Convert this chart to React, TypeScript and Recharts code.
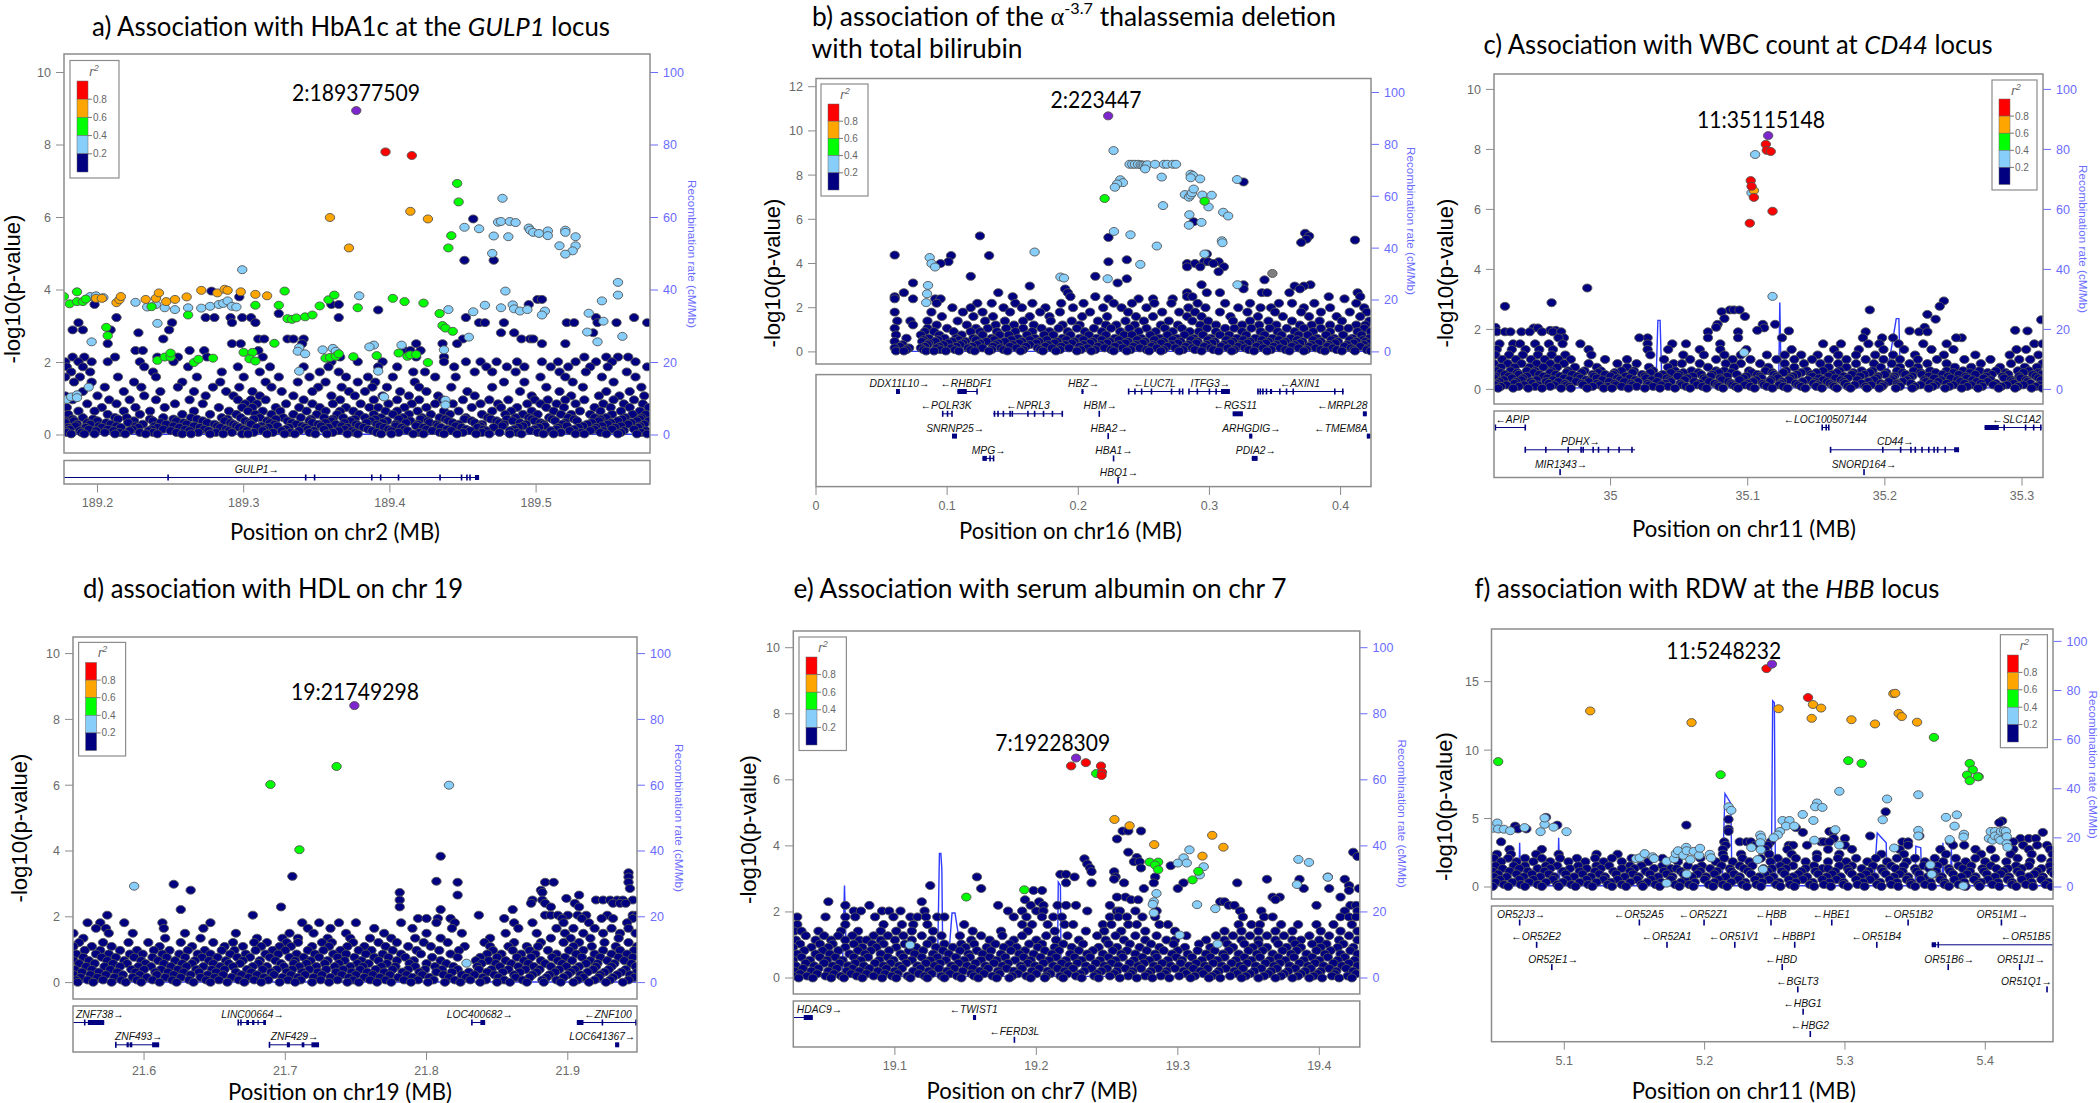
import { ComposedChart, Line, Scatter, XAxis, YAxis } from "recharts";

// colours of the LD classes, lowest r2 first
const NAVY = "#000080";
const LIGHT = "#87CEFA";
const GREEN = "#00FF00";
const ORANGE = "#FFA500";
const RED = "#FF0000";
const PURPLE = "#7D26CD";
const GREY = "#7F7F7F";
const LEGEND_COLOURS = [RED, ORANGE, GREEN, LIGHT, NAVY];
const LEGEND_LABELS = ["0.8", "0.6", "0.4", "0.2"];
const RECOMB_TICKS = [0, 20, 40, 60, 80, 100];

type Pt = [number, number];
type Row = [number, number[]];

// ---------- a) GULP1, x in MB (coloured) or kb above 189000 (navy rows)
const A_PURPLE: Pt[] = [[189.377, 8.95]];
const A_RED: Pt[] = [[189.397, 7.81], [189.415, 7.71]];
const A_ORANGE: Pt[] = [[189.359, 6], [189.372, 5.16], [189.414, 6.17], [189.426, 5.96], [189.199, 3.77], [189.203, 3.77], [189.213, 3.65], [189.215, 3.73], [189.216, 3.82], [189.233, 3.74], [189.24, 3.77], [189.242, 3.92], [189.247, 3.68], [189.253, 3.74], [189.261, 3.81], [189.271, 3.99], [189.282, 3.92], [189.287, 4.02], [189.289, 3.99], [189.298, 3.95], [189.308, 3.88], [189.316, 3.84]];
const A_GREEN: Pt[] = [[189.446, 6.94], [189.447, 6.43], [189.442, 5.5], [189.44, 5.16], [189.177, 3.82], [189.181, 3.62], [189.186, 3.95], [189.186, 3.68], [189.19, 3.68], [189.192, 3.75], [189.237, 3.54], [189.262, 3.31], [189.308, 3.58], [189.328, 3.97], [189.324, 3.58], [189.33, 3.21], [189.333, 3.19], [189.336, 3.23], [189.342, 3.26], [189.347, 3.31], [189.352, 3.56], [189.358, 3.73], [189.362, 3.86], [189.378, 3.51], [189.402, 3.77], [189.41, 3.68], [189.423, 3.64], [189.434, 3.35], [189.436, 3.02], [189.438, 2.95], [189.443, 2.86], [189.206, 2.97], [189.207, 2.74], [189.321, 2.53], [189.241, 2.06], [189.246, 2.15], [189.25, 2.15], [189.25, 2.26], [189.266, 2], [189.269, 2.09], [189.279, 2.12], [189.3, 2.28], [189.306, 2.28], [189.304, 2.1], [189.308, 2.04], [189.356, 2.12], [189.359, 2.14], [189.363, 2.17], [189.365, 2.24], [189.375, 2.16], [189.391, 2.19], [189.406, 2.26], [189.412, 2.17], [189.414, 2.21], [189.418, 2.22], [189.426, 2]];
const A_LIGHT: Pt[] = [[189.299, 4.56], [189.477, 6.53], [189.451, 5.73], [189.461, 5.69], [189.474, 5.87], [189.476, 5.89], [189.482, 5.89], [189.486, 5.86], [189.471, 5.49], [189.481, 5.47], [189.495, 5.71], [189.496, 5.65], [189.498, 5.59], [189.502, 5.56], [189.508, 5.63], [189.508, 5.5], [189.52, 5.65], [189.52, 5.59], [189.527, 5.47], [189.516, 5.22], [189.527, 5.22], [189.525, 5.08], [189.52, 4.99], [189.47, 5.01], [189.556, 4.21], [189.556, 3.86], [189.545, 3.7], [189.479, 3.97], [189.379, 3.84], [189.44, 3.46], [189.457, 3.4], [189.465, 3.58], [189.476, 3.51], [189.484, 3.59], [189.485, 3.48], [189.489, 3.42], [189.494, 3.46], [189.506, 3.42], [189.504, 3.31], [189.536, 3.36], [189.546, 3.14], [189.535, 2.84], [189.542, 2.57], [189.559, 2.72], [189.454, 2.7], [189.437, 2.35], [189.408, 2.48], [189.389, 2.48], [189.386, 2.43], [189.354, 2.35], [189.361, 2.39], [189.363, 2.31], [189.338, 2.41], [189.337, 2.31], [189.342, 2.24], [189.392, 1.76], [189.338, 1.76], [189.396, 1.05], [189.438, 0.96], [189.438, 0.83], [189.194, 1.32], [189.196, 2.57], [189.241, 3.08], [189.179, 0.98], [189.182, 1.05], [189.186, 1.11], [189.186, 1.03], [189.195, 3.82], [189.199, 3.84], [189.204, 3.79], [189.226, 3.66], [189.234, 3.53], [189.24, 3.6], [189.246, 3.51], [189.253, 3.46], [189.262, 3.51], [189.271, 3.5], [189.277, 3.55], [189.283, 3.6], [189.286, 3.63], [189.289, 3.7], [189.292, 3.55], [189.295, 3.53]];
const A_NAVY: Row[] = [
  [5.96, [457]], [4.82, [451, 471]], [3.97, [278]], [3.81, [297]], [3.74, [501, 504]], [3.6, [360, 365, 495, 198]], [3.45, [392]], [3.35, [324]],
  [3.24, [299, 305, 365, 452, 541, 567, 213, 274, 280, 291]], [3.1, [187, 251, 292, 308, 461, 465, 478, 521, 526, 542, 555, 576]],
  [2.9, [183, 190, 209, 249]], [2.82, [228, 476, 485, 539]], [2.65, [245, 310, 314, 330, 334, 341, 490, 496, 498, 450]],
  [2.52, [207, 292, 298, 340, 418, 436, 446, 504, 520]], [2.33, [226, 231, 263, 273, 310, 410, 414, 421]],
  [2.15, [183, 191, 212, 241, 255, 275, 313, 366, 418, 437, 533, 548, 556, 563]],
  [2.02, [178, 187, 196, 207, 229, 252, 360, 378, 395, 437, 452, 462, 473, 487, 504, 515, 527, 541, 552, 568]],
  [1.88, [179, 190, 232, 262, 296, 318, 341, 358, 392, 405, 444, 466, 480, 492, 510, 522, 537, 549, 576]],
  [1.74, [182, 195, 238, 285, 311, 352, 365, 416, 424, 458, 470, 486, 516, 534, 562]],
  [1.6, [178, 188, 214, 240, 268, 300, 324, 345, 370, 385, 402, 431, 445, 503, 520, 545, 568]],
  [1.46, [184, 196, 225, 258, 284, 315, 337, 356, 378, 390, 417, 478, 492, 525, 553]],
  [1.32, [205, 230, 255, 279, 297, 319, 351, 367, 388, 398, 420, 442, 470, 507, 532, 572]],
  [1.2, [190, 218, 243, 266, 288, 306, 326, 347, 372, 383, 407, 425, 453, 489, 516, 548, 564]],
  [1.08, [178, 200, 232, 274, 293, 311, 334, 360, 376, 395, 413, 433, 458, 497, 524, 543, 557, 574]],
  [0.97, [183, 208, 222, 240, 263, 296, 305, 315, 341, 366, 389, 405, 420, 436, 450, 468, 481, 499, 508, 520, 533, 553, 567]],
  [0.86, [193, 213, 253, 272, 301, 309, 329, 347, 361, 380, 399, 415, 431, 443, 462, 474, 494, 503, 514, 527, 546, 560, 573]],
  [0.76, [179, 203, 226, 246, 283, 299, 306, 322, 338, 352, 370, 386, 392, 410, 425, 456, 476, 487, 507, 519, 540, 551, 564, 577]],
  [0.66, [187, 198, 218, 236, 266, 290, 303, 313, 325, 343, 356, 366, 375, 397, 405, 419, 437, 447, 470, 483, 497, 512, 530, 544, 558, 571]],
  [0.57, [180, 207, 229, 258, 277, 295, 308, 319, 334, 350, 364, 379, 389, 402, 413, 428, 441, 463, 479, 491, 501, 517, 524, 537, 552, 566, 575]],
  [0.48, [190, 212, 220, 245, 264, 285, 298, 311, 327, 339, 355, 368, 383, 394, 409, 422, 434, 452, 467, 486, 495, 509, 522, 540, 548, 561, 572]],
  [0.44, [183, 197, 214, 236, 252, 268, 289, 307, 322, 346, 361, 376, 390, 406, 421, 438, 451, 469, 480, 497, 511, 526, 544, 559, 571]],
  [0.39, [178, 184, 200, 225, 238, 254, 272, 287, 301, 316, 330, 345, 360, 373, 387, 398, 414, 426, 440, 456, 473, 484, 499, 513, 528, 543, 556, 569, 577]],
  [0.34, [178, 193, 206, 221, 243, 259, 275, 291, 304, 318, 333, 347, 356, 369, 384, 395, 411, 427, 443, 458, 475, 489, 503, 520, 538, 551, 565]],
  [0.3, [186, 195, 209, 231, 247, 261, 280, 293, 305, 321, 336, 351, 363, 377, 391, 404, 419, 432, 447, 463, 478, 493, 505, 518, 535, 549, 563, 574]],
  [0.25, [185, 201, 213, 226, 239, 252, 266, 282, 295, 312, 323, 340, 353, 367, 379, 393, 404, 418, 433, 445, 462, 477, 491, 506, 521, 532, 545, 558, 571]],
  [0.21, [180, 192, 203, 216, 228, 241, 256, 270, 284, 297, 309, 317, 331, 342, 358, 371, 382, 396, 408, 423, 435, 449, 460, 471, 488, 502, 515, 529, 541, 554, 570]],
  [0.16, [181, 194, 207, 224, 237, 245, 260, 273, 288, 300, 314, 329, 344, 355, 369, 385, 399, 410, 425, 439, 452, 464, 485, 499, 514, 526, 540, 552, 567]],
  [0.12, [178, 188, 199, 211, 222, 235, 250, 263, 276, 290, 302, 313, 326, 338, 348, 365, 374, 388, 401, 412, 429, 442, 455, 466, 482, 496, 510, 523, 537, 546, 560, 575]],
  [0.07, [179, 189, 205, 215, 229, 238, 254, 269, 281, 292, 307, 320, 332, 345, 361, 376, 391, 406, 420, 434, 450, 463, 475, 487, 501, 517, 531, 544, 558, 572]],
  [0.03, [182, 191, 198, 212, 219, 233, 241, 258, 264, 277, 286, 299, 303, 316, 328, 335, 349, 357, 371, 378, 394, 401, 416, 423, 437, 446, 459, 468, 482, 490, 505, 512, 527, 533, 548, 556, 569, 576]],
];
const A_RECOMB: Pt[] = [[189.1771, 0.2], [189.5779, 0.2]];

// ---------- b) alpha thalassemia deletion, navy rows in kb
const B_PURPLE: Pt[] = [[0.2228, 10.68]];
const B_GREEN: Pt[] = [[0.2201, 6.94], [0.2963, 6.82]];
const B_GREY: Pt[] = [[0.348, 3.55]];
const B_LIGHT: Pt[] = [[0.2269, 9.11], [0.2391, 8.49], [0.2412, 8.49], [0.2432, 8.49], [0.2456, 8.49], [0.2476, 8.47], [0.249, 8.45], [0.2503, 8.45], [0.2517, 8.42], [0.2527, 8.47], [0.2585, 8.49], [0.2653, 8.49], [0.2677, 8.49], [0.2721, 8.49], [0.2745, 8.49], [0.251, 8.28], [0.2636, 7.91], [0.2857, 8.04], [0.2874, 7.98], [0.2857, 7.88], [0.2929, 7.83], [0.3211, 7.8], [0.232, 7.79], [0.234, 7.66], [0.2296, 7.6], [0.2279, 7.45], [0.2813, 7.12], [0.2844, 7], [0.2857, 7.1], [0.2867, 7.2], [0.288, 7.37], [0.2946, 7.1], [0.3017, 7.09], [0.2993, 6.56], [0.2646, 6.62], [0.3105, 6.32], [0.3143, 6.15], [0.2847, 6.21], [0.2844, 5.73], [0.2939, 5.86], [0.2272, 5.45], [0.2398, 5.3], [0.2599, 4.79], [0.3095, 5.03], [0.3099, 4.94], [0.2963, 4.43], [0.1667, 4.52], [0.2473, 3.96], [0.0867, 4.27], [0.0881, 4], [0.0908, 3.84], [0.1864, 3.39], [0.1891, 3.34], [0.2224, 3.31], [0.0854, 3.01], [0.0847, 2.63], [0.084, 2.23], [0.3214, 3.04]];
const B_NAVY: Row[] = [
  [7.69, [326]], [5.89, [288]], [5.25, [125]], [5.18, [223]], [5.37, [373]], [5.24, [376]], [5.1, [374]], [4.95, [370]], [5.06, [411]], [4.38, [60]], [4.36, [103, 132]], [4.43, [298]],
  [4.08, [101, 223, 296, 299, 307]], [4.17, [237]], [4, [95, 283, 289, 303]], [3.85, [283, 293, 311]], [3.63, [307]], [3.42, [118, 213]], [3.31, [237]], [3.26, [342]], [3.12, [74, 230]],
  [3.04, [377, 294, 326]], [2.98, [163, 365, 372]], [2.85, [190, 326, 369]], [2.68, [67, 139, 192, 283, 298, 308, 340, 344, 361, 413]], [2.5, [60, 150, 194, 213, 283, 287, 391, 415]], [2.4, [60, 91, 95, 74, 223, 246, 257, 272, 403]],
  [2.2, [92, 123, 134, 152, 165, 187, 204, 227, 241, 258, 271, 291, 312, 331, 353, 363, 380, 412]],
  [2, [104, 118, 143, 157, 175, 196, 219, 233, 252, 284, 297, 322, 339, 347, 372, 392, 418]],
  [1.8, [60, 88, 112, 127, 148, 171, 186, 209, 238, 264, 277, 289, 308, 329, 350, 370, 385, 407, 420]],
  [1.6, [96, 120, 135, 163, 178, 203, 222, 244, 257, 283, 294, 316, 337, 356, 376, 397, 415]],
  [1.4, [62, 72, 85, 108, 129, 144, 158, 179, 195, 215, 236, 250, 269, 287, 299, 318, 331, 345, 363, 384, 401, 422]],
  [1.22, [74, 92, 115, 137, 151, 166, 188, 201, 221, 229, 243, 263, 276, 293, 305, 325, 338, 351, 369, 378, 392, 412, 419]],
  [1.07, [60, 85, 100, 122, 131, 145, 158, 172, 185, 199, 212, 225, 239, 252, 266, 279, 298, 312, 319, 332, 346, 359, 372, 385, 399, 406, 418]],
  [0.92, [83, 90, 105, 118, 125, 138, 152, 165, 178, 192, 205, 218, 232, 246, 259, 272, 285, 292, 305, 325, 339, 352, 365, 379, 392, 413, 423]],
  [0.77, [61, 80, 94, 111, 127, 140, 147, 161, 174, 181, 194, 208, 221, 235, 241, 255, 268, 281, 295, 308, 315, 328, 342, 355, 368, 375, 389, 402, 416]],
  [0.62, [69, 86, 98, 107, 120, 134, 154, 167, 188, 201, 214, 228, 248, 262, 275, 288, 301, 321, 335, 348, 362, 382, 395, 409, 422]],
  [0.55, [82, 93, 109, 122, 136, 149, 163, 176, 191, 204, 218, 231, 245, 258, 272, 286, 299, 313, 326, 340, 353, 367, 379, 393, 407, 417]],
  [0.47, [60, 81, 91, 104, 114, 130, 144, 157, 170, 184, 197, 211, 224, 238, 251, 265, 278, 291, 304, 318, 331, 345, 358, 371, 385, 398, 412, 419]],
  [0.4, [86, 101, 112, 125, 139, 155, 168, 182, 195, 209, 222, 236, 249, 263, 276, 290, 302, 316, 329, 343, 356, 369, 383, 396, 410, 422]],
  [0.33, [66, 85, 97, 110, 123, 137, 150, 163, 177, 190, 204, 217, 231, 244, 257, 271, 284, 298, 311, 324, 338, 351, 365, 378, 391, 405, 418]],
  [0.25, [64, 83, 94, 107, 119, 135, 148, 160, 175, 187, 201, 215, 228, 242, 256, 268, 282, 296, 309, 322, 336, 349, 363, 376, 390, 403, 415]],
  [0.18, [60, 71, 80, 92, 103, 116, 127, 141, 153, 169, 180, 193, 207, 220, 234, 247, 260, 274, 287, 301, 314, 327, 341, 354, 368, 381, 394, 408, 421]],
  [0.1, [69, 82, 95, 106, 118, 134, 143, 158, 171, 186, 202, 213, 225, 240, 252, 265, 280, 289, 303, 319, 330, 347, 358, 374, 385, 397, 410, 420]],
  [0.04, [61, 67, 84, 90, 99, 109, 121, 132, 146, 156, 173, 183, 199, 210, 227, 237, 254, 263, 277, 294, 307, 317, 334, 344, 361, 372, 388, 401, 411, 423]],
];
const B_RECOMB: Pt[] = [[0.06, 0.2], [0.4232, 0.2]];

// ---------- c) CD44, navy rows in kb above 34900
const C_PURPLE: Pt[] = [[35.1149, 8.46]];
const C_RED: Pt[] = [[35.1132, 8.17], [35.1139, 7.97], [35.1168, 7.93], [35.1022, 6.96], [35.1028, 6.77], [35.1045, 6.4], [35.1181, 5.94], [35.1015, 5.54]];
const C_ORANGE: Pt[] = [[35.1045, 6.63]];
const C_LIGHT: Pt[] = [[35.1054, 7.83], [35.1028, 6.55], [35.1181, 3.1], [35.0973, 1.23]];
const C_NAVY: Row[] = [
  [3.38, [83]], [2.89, [57]], [2.77, [23]], [2.65, [187, 190, 194, 289]], [2.95, [343]], [2.77, [340]], [2.59, [181]], [2.5, [331]], [2.43, [198]], [2.36, [183]], [2.34, [337]], [2.32, [414]],
  [2.17, [220, 178, 211]], [2.07, [177, 329, 16]], [2.05, [212, 44, 47]], [1.97, [207, 395, 56, 60]], [1.95, [230, 404, 318]],
  [1.92, [17, 23, 27, 35, 41, 50, 58, 64, 171, 193, 286, 325, 331]],
  [1.72, [66, 127, 171, 193, 225, 284, 298, 356, 62, 121, 306, 352]],
  [1.52, [19, 29, 34, 45, 55, 65, 78, 127, 145, 155, 180, 255, 268, 288, 296, 310, 328, 345, 409, 415]],
  [1.33, [17, 28, 38, 48, 58, 84, 127, 142, 165, 180, 199, 232, 263, 281, 299, 314, 334, 350, 396, 403]],
  [1.15, [16, 26, 36, 47, 57, 67, 86, 129, 153, 168, 183, 195, 214, 227, 239, 251, 266, 279, 293, 306, 322, 343, 366, 391, 412]],
  [1, [21, 31, 42, 52, 62, 71, 96, 112, 139, 158, 177, 189, 202, 221, 234, 247, 259, 272, 286, 299, 311, 324, 338, 358, 377, 398, 406]],
  [0.86, [15, 25, 35, 46, 56, 66, 84, 105, 119, 146, 152, 165, 184, 195, 209, 227, 241, 253, 266, 279, 292, 305, 318, 331, 345, 370, 392, 415]],
  [0.74, [20, 30, 41, 51, 61, 74, 90, 112, 128, 142, 171, 190, 215, 234, 259, 272, 297, 311, 324, 351, 363, 384, 402, 411]],
  [0.62, [17, 27, 39, 45, 57, 69, 81, 93, 108, 117, 131, 147, 159, 177, 183, 201, 213, 228, 243, 255, 267, 283, 291, 309, 321, 333, 345, 357, 369, 381, 397, 405]],
  [0.56, [20, 32, 44, 56, 68, 79, 91, 103, 116, 129, 144, 153, 164, 179, 188, 203, 218, 226, 239, 250, 265, 277, 289, 301, 313, 326, 337, 350, 362, 375, 388, 401, 412]],
  [0.5, [23, 33, 48, 60, 72, 87, 96, 102, 123, 138, 150, 166, 174, 192, 207, 219, 236, 246, 261, 276, 285, 300, 315, 327, 342, 354, 366, 378, 390, 408, 414]],
  [0.44, [16, 26, 39, 51, 63, 76, 88, 100, 111, 125, 135, 149, 160, 173, 185, 199, 209, 221, 233, 247, 259, 270, 282, 295, 307, 320, 332, 346, 359, 374, 386, 398, 410]],
  [0.38, [15, 28, 36, 54, 66, 78, 90, 105, 114, 126, 141, 156, 168, 180, 197, 210, 222, 231, 252, 264, 273, 294, 306, 318, 336, 348, 360, 372, 387, 399, 412]],
  [0.32, [22, 35, 46, 58, 70, 82, 94, 107, 118, 130, 143, 154, 169, 181, 194, 206, 217, 230, 244, 255, 268, 280, 292, 305, 316, 329, 341, 353, 364, 377, 392, 403, 414]],
  [0.26, [19, 31, 42, 53, 62, 75, 84, 99, 110, 120, 134, 144, 161, 172, 186, 204, 216, 225, 240, 249, 258, 270, 288, 303, 313, 330, 339, 355, 367, 375, 393, 404]],
  [0.2, [17, 30, 43, 55, 67, 79, 90, 103, 115, 127, 140, 151, 165, 176, 188, 200, 211, 224, 235, 248, 260, 271, 283, 297, 309, 319, 333, 345, 358, 370, 381, 394, 406]],
  [0.15, [16, 24, 37, 47, 59, 68, 80, 92, 104, 116, 128, 137, 152, 163, 178, 189, 198, 212, 223, 237, 251, 262, 278, 290, 299, 310, 326, 337, 350, 363, 379, 389, 401, 413]],
  [0.1, [20, 33, 45, 56, 70, 87, 98, 108, 119, 131, 142, 155, 167, 179, 191, 202, 214, 226, 239, 250, 263, 273, 286, 298, 311, 322, 335, 347, 360, 371, 385, 397, 410]],
  [0.04, [18, 29, 40, 50, 64, 71, 83, 95, 101, 113, 125, 136, 147, 158, 170, 182, 193, 205, 218, 229, 242, 254, 265, 275, 287, 296, 308, 320, 332, 344, 356, 368, 383, 395, 407, 415]],
];
const C_RECOMB: Pt[] = [[34.915, 0.5], [35.033, 0.5], [35.0345, 23], [35.0361, 23], [35.0375, 0.5], [35.1225, 0.5], [35.1234, 29], [35.1245, 0.5], [35.2, 0.5], [35.2083, 23.6], [35.2102, 23.6], [35.2115, 0.5], [35.3153, 0.5]];

// ---------- d) HDL, navy rows in kb above 21500
const D_PURPLE: Pt[] = [[21.7489, 8.42]];
const D_GREEN: Pt[] = [[21.7363, 6.57], [21.6895, 6.02], [21.71, 4.04]];
const D_LIGHT: Pt[] = [[21.8159, 6], [21.593, 2.93], [21.8283, 0.59]];
const D_NAVY: Row[] = [
  [3.84, [310]], [3.34, [443]], [3.23, [205]], [3.21, [443]], [3.08, [307]], [3.05, [322, 384, 390, 443]], [2.99, [121]], [2.86, [444]], [2.81, [133, 381]], [2.74, [281, 382]], [2.66, [322, 408]], [2.56, [399]],
  [2.51, [281, 375, 382, 420, 425, 430, 435, 439, 446]], [2.41, [374, 384, 405, 432, 437, 441]], [2.3, [281, 197, 388, 408]], [2.22, [126, 361, 310]], [2.05, [177, 74, 337, 384, 388, 393, 400, 407, 413, 428, 446, 449]],
  [1.95, [294, 300, 308, 317, 355, 396, 410, 424, 432, 446]],
  [1.82, [60, 69, 86, 113, 147, 212, 224, 238, 250, 282, 307, 320, 362, 375, 397, 415, 442]],
  [1.65, [66, 73, 114, 142, 216, 232, 263, 290, 318, 365, 392, 404, 419, 431, 443]],
  [1.5, [50, 75, 92, 129, 165, 203, 220, 243, 270, 300, 325, 356, 378, 398, 411, 425, 437, 448]],
  [1.35, [57, 115, 140, 180, 198, 209, 230, 246, 260, 275, 292, 310, 345, 388, 402, 416, 436]],
  [1.22, [54, 71, 89, 103, 126, 149, 163, 178, 187, 201, 209, 226, 233, 248, 266, 279, 298, 315, 341, 362, 381, 397, 408, 426, 443]],
  [1.1, [50, 63, 77, 111, 134, 157, 170, 183, 196, 204, 219, 231, 244, 256, 271, 287, 303, 327, 345, 358, 371, 379, 404, 417, 434, 449]],
  [0.98, [58, 69, 83, 95, 107, 118, 131, 143, 155, 164, 179, 191, 200, 216, 227, 239, 252, 261, 276, 293, 309, 323, 347, 361, 373, 386, 401, 411, 425, 437, 447]],
  [0.87, [52, 66, 75, 90, 99, 113, 125, 138, 147, 161, 172, 186, 195, 208, 221, 234, 243, 257, 269, 282, 296, 317, 343, 353, 367, 377, 392, 406, 419, 431, 442]],
  [0.77, [57, 70, 80, 93, 106, 116, 129, 141, 152, 166, 175, 189, 203, 213, 224, 237, 249, 263, 273, 285, 304, 322, 338, 350, 364, 374, 389, 398, 410, 423, 436, 446]],
  [0.67, [50, 61, 74, 86, 98, 110, 122, 136, 146, 158, 170, 182, 193, 207, 218, 230, 242, 254, 266, 279, 291, 310, 335, 344, 356, 369, 381, 393, 403, 416, 428, 440]],
  [0.58, [54, 65, 78, 88, 101, 114, 127, 134, 149, 160, 168, 181, 197, 206, 215, 228, 238, 251, 259, 272, 288, 300, 314, 339, 349, 360, 372, 384, 396, 413, 421, 433, 445]],
  [0.49, [59, 72, 83, 96, 105, 119, 130, 142, 154, 163, 177, 187, 199, 210, 222, 235, 246, 255, 268, 278, 292, 306, 319, 336, 352, 365, 376, 388, 399, 408, 420, 431, 448]],
  [0.4, [51, 63, 76, 91, 100, 112, 124, 137, 148, 157, 173, 184, 194, 205, 217, 229, 241, 253, 264, 276, 287, 299, 311, 322, 337, 346, 358, 370, 380, 394, 405, 418, 429, 441]],
  [0.32, [56, 68, 81, 94, 108, 117, 128, 139, 151, 165, 176, 190, 201, 212, 223, 236, 247, 258, 270, 283, 295, 307, 318, 330, 343, 354, 366, 378, 391, 402, 414, 426, 438, 449]],
  [0.24, [50, 62, 73, 85, 97, 109, 121, 133, 145, 156, 169, 180, 192, 204, 214, 226, 240, 250, 262, 274, 286, 297, 312, 325, 334, 348, 362, 375, 387, 400, 409, 423, 435, 444]],
  [0.16, [55, 67, 79, 92, 102, 115, 126, 140, 150, 162, 174, 185, 198, 209, 220, 232, 245, 256, 267, 280, 290, 302, 316, 328, 340, 351, 363, 373, 385, 397, 411, 422, 432, 447]],
  [0.08, [52, 60, 71, 84, 95, 106, 120, 132, 144, 153, 167, 178, 188, 202, 211, 225, 237, 248, 260, 271, 284, 294, 305, 320, 331, 342, 355, 368, 382, 392, 407, 419, 430, 443]],
  [0.01, [53, 64, 77, 87, 98, 111, 123, 135, 147, 159, 171, 183, 196, 207, 219, 231, 244, 252, 265, 275, 289, 301, 313, 324, 338, 350, 359, 371, 383, 395, 404, 415, 427, 439]],
];
const D_RECOMB: Pt[] = [[21.5497, 0.2], [21.949, 0.2]];

// ---------- e) serum albumin, navy rows in kb above 19000
const E_PURPLE: Pt[] = [[19.2281, 6.66]];
const E_RED: Pt[] = [[19.2246, 6.42], [19.235, 6.52], [19.2457, 6.42], [19.2464, 6.23], [19.2461, 6.13]];
const E_ORANGE: Pt[] = [[19.2552, 4.8], [19.2659, 4.61], [19.2833, 4.04], [19.3243, 4.32], [19.3174, 3.69], [19.3322, 3.96]];
const E_GREEN: Pt[] = [[19.2423, 6.19], [19.2801, 3.51], [19.2861, 3.51], [19.2839, 3.42], [19.2861, 3.28], [19.3145, 3.23], [19.3104, 2.97], [19.1505, 2.45], [19.1915, 2.67]];
const E_LIGHT: Pt[] = [[19.3082, 3.88], [19.3041, 3.64], [19.3, 3.48], [19.3063, 3.48], [19.3183, 3.37], [19.3155, 3.12], [19.3852, 3.59], [19.3927, 3.5], [19.406, 3.05], [19.3842, 2.83], [19.2849, 2.56], [19.283, 2.31], [19.2823, 2.23], [19.283, 1.97], [19.3136, 2.22], [19.3265, 2.1], [19.3013, 1.3], [19.3281, 1.03], [19.1107, 1]];
const E_NAVY: Row[] = [
  [4.45, [261, 265, 274]], [4.21, [257]], [3.81, [265, 424]], [3.68, [427]], [3.61, [234]], [3.65, [271]], [3.52, [269, 273]], [3.45, [236]], [3.4, [295]], [3.33, [238, 274]], [3.22, [239, 255]],
  [3.14, [217, 221]], [3.06, [158, 227, 256, 284, 406]], [2.99, [255, 363, 386, 418]], [2.88, [239, 221, 262, 283, 304, 342]], [2.8, [125, 421]], [2.71, [161, 276, 300, 389, 407, 428]], [2.65, [198, 204, 421]], [2.45, [263, 257, 367, 372, 415]], [2.37, [192, 267, 272, 369]],
  [2.31, [53, 119, 202, 330, 333]], [2.2, [65, 82, 173, 196, 205, 215, 221, 228, 252, 336, 340, 398, 422, 426]],
  [2.03, [71, 76, 91, 96, 104, 121, 180, 190, 200, 205, 236, 257, 259, 270, 285, 359, 344, 418, 427]],
  [1.85, [31, 51, 65, 72, 86, 99, 111, 116, 122, 130, 135, 184, 193, 204, 212, 218, 252, 258, 264, 275, 284, 346, 361, 367, 415, 421, 426]],
  [1.62, [31, 65, 92, 105, 113, 123, 149, 190, 197, 208, 220, 226, 247, 253, 265, 271, 287, 293, 343, 352, 358, 373, 385, 398, 410, 423]],
  [1.42, [29, 34, 46, 62, 74, 90, 101, 112, 127, 155, 175, 194, 213, 235, 248, 260, 277, 298, 333, 345, 357, 369, 381, 401, 415, 427]],
  [1.28, [37, 50, 60, 70, 85, 95, 106, 119, 133, 146, 161, 176, 190, 207, 222, 243, 256, 270, 285, 306, 327, 339, 351, 363, 375, 393, 407, 421]],
  [1.15, [30, 44, 55, 65, 75, 80, 90, 100, 112, 126, 154, 167, 184, 200, 214, 230, 249, 262, 277, 292, 298, 320, 333, 345, 357, 369, 381, 387, 400, 414, 427]],
  [1.03, [33, 47, 56, 71, 84, 92, 107, 123, 135, 147, 156, 171, 181, 195, 204, 219, 233, 251, 266, 281, 297, 315, 335, 347, 357, 371, 383, 395, 405, 417]],
  [0.93, [28, 41, 53, 65, 77, 87, 101, 115, 129, 141, 150, 165, 177, 186, 201, 213, 225, 244, 257, 273, 287, 305, 323, 339, 353, 363, 377, 387, 401, 413, 424]],
  [0.83, [36, 49, 60, 74, 83, 96, 110, 120, 134, 146, 158, 168, 182, 192, 206, 216, 230, 240, 254, 264, 278, 290, 300, 314, 326, 336, 350, 360, 374, 384, 398, 408, 422]],
  [0.73, [31, 44, 54, 68, 79, 90, 104, 114, 127, 138, 152, 162, 175, 188, 198, 211, 224, 236, 247, 260, 270, 284, 296, 307, 320, 332, 343, 356, 367, 380, 391, 404, 415, 427]],
  [0.63, [34, 47, 58, 71, 81, 95, 106, 119, 130, 143, 153, 167, 178, 191, 203, 214, 227, 238, 251, 261, 275, 285, 299, 310, 323, 333, 347, 358, 371, 382, 395, 406, 418]],
  [0.54, [28, 40, 52, 63, 76, 89, 99, 112, 125, 136, 149, 161, 172, 185, 196, 209, 221, 232, 245, 256, 269, 280, 293, 303, 317, 328, 341, 352, 365, 376, 389, 400, 413, 425]],
  [0.45, [37, 50, 61, 72, 86, 97, 108, 122, 132, 145, 157, 170, 180, 194, 205, 218, 229, 242, 253, 266, 276, 289, 302, 313, 325, 338, 349, 362, 372, 386, 397, 410, 421]],
  [0.37, [30, 43, 56, 67, 78, 92, 103, 116, 128, 140, 151, 164, 176, 189, 199, 212, 223, 235, 248, 258, 272, 283, 295, 308, 319, 331, 344, 355, 368, 379, 392, 403, 416, 427]],
  [0.29, [35, 46, 59, 70, 82, 94, 105, 118, 131, 142, 155, 166, 179, 190, 202, 215, 226, 239, 250, 263, 274, 286, 298, 311, 321, 334, 346, 359, 370, 383, 394, 407, 419]],
  [0.21, [29, 41, 53, 66, 75, 88, 100, 113, 124, 137, 148, 160, 173, 184, 197, 208, 220, 234, 246, 257, 268, 281, 292, 304, 316, 329, 340, 354, 366, 378, 390, 401, 412, 424]],
  [0.13, [33, 45, 57, 69, 80, 93, 102, 117, 126, 139, 154, 163, 174, 187, 200, 210, 222, 231, 243, 255, 267, 279, 291, 306, 318, 327, 342, 351, 364, 375, 387, 399, 411, 426]],
  [0.06, [28, 38, 51, 62, 73, 85, 98, 109, 121, 133, 144, 156, 169, 183, 193, 207, 217, 228, 241, 252, 265, 277, 288, 301, 312, 324, 337, 348, 361, 373, 385, 396, 409, 420]],
  [0, [32, 42, 55, 64, 77, 91, 101, 111, 123, 135, 147, 159, 172, 181, 196, 206, 219, 232, 244, 259, 271, 282, 294, 309, 322, 330, 345, 357, 369, 381, 393, 402, 414, 423]],
];
const E_RECOMB: Pt[] = [[19.028, 0.5], [19.0628, 0.5], [19.0644, 28], [19.066, 0.5], [19.13, 0.5], [19.1315, 37.7], [19.1325, 37.7], [19.1332, 33], [19.134, 0.5], [19.137, 0.5], [19.1404, 19.7], [19.1425, 19.7], [19.146, 10], [19.1467, 0.5], [19.2148, 0.5], [19.2155, 29], [19.217, 28], [19.2175, 0.5], [19.4284, 0.5]];

// ---------- f) HBB, navy rows in kb above 5000
const F_PURPLE: Pt[] = [[5.248, 16.28]];
const F_RED: Pt[] = [[5.2441, 15.95], [5.2737, 13.84]];
const F_ORANGE: Pt[] = [[5.1185, 12.86], [5.1907, 12.01], [5.2527, 13.02], [5.2772, 13.33], [5.283, 13.07], [5.2763, 12.32], [5.3046, 12.22], [5.3214, 11.91], [5.3345, 14.12], [5.3358, 14.15], [5.3383, 12.68], [5.3405, 12.45], [5.3514, 12.04]];
const F_GREEN: Pt[] = [[5.0529, 9.16], [5.2114, 8.2], [5.3024, 9.23], [5.3119, 9.03], [5.3634, 10.93], [5.3889, 9.03], [5.3911, 8.56], [5.387, 8.18], [5.3889, 7.76], [5.3953, 8.05], [5.3946, 8.05]];
const F_LIGHT: Pt[] = [[5.296, 6.99], [5.33, 6.43], [5.3523, 6.74], [5.2801, 6.14], [5.2788, 5.86], [5.2839, 5.81], [5.2699, 5.3], [5.2775, 4.86], [5.2556, 4.86], [5.2604, 4.86], [5.2581, 4.45], [5.2639, 4.45], [5.2171, 5.86], [5.219, 5.6], [5.3269, 4.91], [5.372, 5.09], [5.3797, 5.27], [5.3781, 4.45], [5.3746, 3.47], [5.3523, 4.14], [5.3523, 3.73], [5.3848, 3.86], [5.3845, 3.65], [5.2931, 4.19], [5.2782, 3.42], [5.296, 3.06], [5.2537, 4.06], [5.2521, 3.8], [5.2492, 3.6], [5.2397, 3.8], [5.2403, 3.6], [5.2397, 3.24], [5.24, 2.72], [5.2333, 2.88], [5.2378, 2], [5.2416, 1.29], [5.3351, 2.85], [5.3609, 1.62], [5.3618, 0.93], [5.3844, 0.08], [5.1872, 0.95], [5.1729, 0.28], [5.0491, 4.29], [5.0523, 4.68], [5.0529, 4.24], [5.057, 4.22], [5.0615, 4.11], [5.0717, 4.34], [5.0831, 4.04], [5.086, 4.58], [5.086, 5.04], [5.0924, 4.37], [5.1016, 4.04], [5.1512, 2.06], [5.1538, 2.13], [5.1573, 2.44], [5.163, 2.21], [5.164, 2.08], [5.1729, 1.88], [5.1783, 2.06], [5.1795, 2.44], [5.1811, 2.65], [5.1849, 2.31], [5.1869, 2.9], [5.1872, 2.65], [5.1898, 2], [5.1923, 2.6], [5.1961, 2.31], [5.1967, 2.83], [5.2037, 2.39], [5.2046, 2.13], [5.4026, 3.55], [5.4039, 4.06], [5.4051, 3.42], [5.407, 4.06], [5.407, 3.73], [5.4096, 3.6], [5.4108, 3.42], [5.4112, 4.06], [5.4134, 4.11], [5.4147, 4.06], [5.4153, 3.68], [5.4153, 3.16], [5.4159, 2.9]];
const F_NAVY: Row[] = [
  [5.5, [329]], [5.09, [87]], [4.94, [217]], [4.83, [412]], [4.7, [410]], [4.52, [95, 187]], [4.45, [65]], [4.34, [265]], [4.24, [67, 73, 217]], [4.06, [217, 289, 292, 413]], [3.99, [270, 441]], [3.73, [318, 353]],
  [3.55, [292, 300, 425, 431, 408, 436]], [3.3, [55, 214, 225, 230, 233, 247, 283, 285, 289, 341, 345, 375, 420]], [3.05, [215, 236, 245, 260, 263, 273, 300, 345, 377, 385, 427, 437, 444]],
  [2.75, [61, 84, 213, 243, 259, 288, 305, 339, 368, 393, 404, 420, 431, 446]],
  [2.4, [52, 62, 80, 96, 123, 138, 213, 226, 246, 262, 280, 296, 326, 342, 372, 397, 418, 433, 448]],
  [2.1, [50, 60, 72, 84, 97, 109, 122, 134, 148, 170, 197, 214, 227, 240, 252, 265, 280, 295, 308, 322, 337, 350, 364, 379, 393, 407, 423, 440]],
  [1.85, [55, 66, 78, 90, 103, 115, 128, 141, 160, 181, 208, 220, 232, 247, 258, 272, 288, 301, 316, 330, 344, 357, 370, 386, 400, 415, 432, 447]],
  [1.55, [51, 64, 72, 87, 95, 110, 123, 132, 147, 155, 170, 188, 198, 212, 225, 234, 254, 263, 278, 296, 305, 320, 333, 342, 356, 366, 381, 390, 404, 422, 431, 446]],
  [1.35, [56, 68, 81, 90, 104, 116, 126, 141, 150, 164, 176, 180, 194, 204, 218, 228, 242, 248, 258, 272, 284, 288, 302, 312, 326, 336, 350, 360, 374, 384, 398, 408, 416, 426, 440]],
  [1.15, [49, 61, 74, 86, 99, 111, 122, 135, 147, 158, 171, 183, 197, 209, 219, 231, 245, 255, 269, 279, 293, 303, 317, 327, 341, 351, 365, 375, 389, 399, 413, 423, 437, 447]],
  [0.95, [53, 66, 77, 89, 101, 113, 125, 137, 149, 161, 173, 185, 195, 207, 221, 233, 243, 257, 267, 281, 291, 305, 315, 329, 339, 353, 363, 377, 387, 401, 411, 425, 435, 449]],
  [0.75, [50, 59, 71, 83, 93, 107, 119, 129, 143, 153, 167, 177, 191, 201, 215, 225, 239, 249, 263, 273, 287, 297, 311, 321, 335, 345, 359, 369, 383, 393, 407, 417, 431, 441]],
  [0.55, [54, 68, 78, 92, 102, 116, 128, 138, 152, 162, 176, 186, 200, 210, 224, 236, 246, 260, 270, 284, 294, 308, 318, 332, 344, 354, 368, 378, 392, 402, 416, 426, 440]],
  [0.35, [51, 63, 75, 87, 99, 111, 123, 133, 147, 159, 169, 183, 193, 207, 219, 229, 241, 253, 265, 277, 289, 299, 313, 325, 337, 347, 361, 371, 385, 397, 409, 419, 433, 445]],
  [0.18, [57, 69, 81, 95, 105, 117, 131, 141, 155, 165, 179, 189, 203, 213, 227, 237, 251, 261, 275, 285, 299, 309, 323, 333, 347, 357, 371, 381, 395, 405, 419, 429, 443]],
  [0.04, [49, 60, 72, 84, 96, 108, 120, 134, 144, 156, 168, 182, 192, 206, 216, 230, 240, 254, 264, 278, 290, 302, 314, 326, 338, 350, 362, 374, 386, 396, 410, 422, 434, 447]],
];
const F_RECOMB: Pt[] = [[5.0485, 0.5], [5.0675, 0.5], [5.0682, 18], [5.069, 0.5], [5.0953, 0.5], [5.096, 20], [5.0968, 0.5], [5.2125, 0.5], [5.2145, 38], [5.2187, 34], [5.2195, 0.5], [5.2475, 0.5], [5.2485, 75.8], [5.2497, 75], [5.2505, 0.5], [5.3205, 0.5], [5.323, 22], [5.3294, 18], [5.33, 0.5], [5.35, 0.5], [5.3505, 16.6], [5.354, 16], [5.3548, 0.5], [5.3692, 0.5], [5.3698, 18], [5.3705, 0.5], [5.3752, 0.5], [5.3758, 16], [5.3765, 0.5], [5.4486, 0.5]];

// ---------- gene tracks: name, row, label x, line from, line to, exon ticks, exon blocks
type Gene = [string, number, number, number, number, number[], Pt[]];
const A_GENES: Gene[] = [
  ["GULP1→", 0, 189.309, 189.177, 189.461, [189.2483, 189.3424, 189.3485, 189.3876, 189.3937, 189.4059, 189.4343, 189.449, 189.4527, 189.4548], [[189.4582, 189.461]]],
];
const B_GENES: Gene[] = [
  ["DDX11L10→", 0, 0.0636, 0.061, 0.064, [], [[0.061, 0.064]]],
  ["←RHBDF1", 0, 0.1146, 0.1078, 0.1228, [0.1228], [[0.1078, 0.115]]],
  ["HBZ→", 0, 0.204, 0.2024, 0.204, [], [[0.2024, 0.204]]],
  ["←LUC7L", 0, 0.2582, 0.2384, 0.2796, [0.2384, 0.2432, 0.2483, 0.2558, 0.2711, 0.2772, 0.2796], []],
  ["ITFG3→", 0, 0.3007, 0.2844, 0.3156, [0.2844, 0.2908, 0.3, 0.3051], [[0.3088, 0.3156]]],
  ["←AXIN1", 0, 0.369, 0.337, 0.4024, [0.337, 0.3388, 0.3408, 0.3435, 0.3537, 0.3588, 0.3639, 0.3956, 0.4017], [[0.3461, 0.3478]]],
  ["←POLR3K", 1, 0.0993, 0.0966, 0.1037, [0.0966, 0.1003, 0.1037], []],
  ["←NPRL3", 1, 0.1616, 0.135, 0.1884, [0.1361, 0.1388, 0.1429, 0.148, 0.1497, 0.1616, 0.1667, 0.1735, 0.1803, 0.1878], []],
  ["HBM→", 1, 0.2167, 0.216, 0.216, [0.216], []],
  ["←RGS11", 1, 0.3197, 0.3177, 0.3255, [], [[0.3177, 0.3255]]],
  ["←MRPL28", 1, 0.4014, 0.417, 0.42, [], [[0.417, 0.42]]],
  ["SNRNP25→", 2, 0.1061, 0.1037, 0.1075, [], [[0.1037, 0.1075]]],
  ["HBA2→", 2, 0.2235, 0.2228, 0.2228, [0.2228], []],
  ["ARHGDIG→", 2, 0.332, 0.3303, 0.3327, [], [[0.3303, 0.3327]]],
  ["←TMEM8A", 2, 0.4003, 0.42, 0.4228, [], [[0.42, 0.4228]]],
  ["MPG→", 3, 0.1316, 0.1269, 0.1357, [0.1327, 0.1354], [[0.1269, 0.1303]]],
  ["HBA1→", 3, 0.2272, 0.2269, 0.2269, [0.2269], []],
  ["PDIA2→", 3, 0.3354, 0.3323, 0.3367, [], [[0.3323, 0.3367]]],
  ["HBQ1→", 4, 0.231, 0.2303, 0.2303, [0.2303], []],
];
const C_GENES: Gene[] = [
  ["←APIP", 0, 34.9284, 34.916, 34.9378, [34.916, 34.9378], []],
  ["←LOC100507144", 0, 35.1565, 35.1543, 35.1591, [35.1543, 35.1572, 35.1591], []],
  ["←SLC1A2", 0, 35.2961, 35.2727, 35.3143, [35.287, 35.3026, 35.3085, 35.3137], [[35.2727, 35.2831]]],
  ["PDHX→", 1, 34.978, 34.9378, 35.0179, [34.9378, 34.9528, 34.9691, 34.9785, 34.98, 34.9873, 34.9912, 34.9984, 35.0062, 35.0156], []],
  ["CD44→", 1, 35.2076, 35.1604, 35.2541, [35.1604, 35.1985, 35.2115, 35.219, 35.2222, 35.2271, 35.232, 35.2359, 35.2385, 35.244], [[35.2505, 35.2541]]],
  ["MIR1343→", 2, 34.9639, 34.9632, 34.9632, [34.9632], []],
  ["SNORD164→", 2, 35.1848, 35.1848, 35.1848, [35.1848], []],
];
const D_GENES: Gene[] = [
  ["ZNF738→", 0, 21.5687, 21.5497, 21.5718, [21.558], [[21.5602, 21.5718]]],
  ["LINC00664→", 0, 21.6768, 21.6667, 21.6863, [21.6667, 21.6686], [[21.6724, 21.6743], [21.6765, 21.6781], [21.6803, 21.6812], [21.6844, 21.6863]]],
  ["LOC400682→", 0, 21.8377, 21.8321, 21.8415, [21.8321], [[21.8381, 21.8415]]],
  ["←ZNF100", 0, 21.9285, 21.9064, 21.949, [21.9245, 21.9483], [[21.9064, 21.9111]]],
  ["ZNF493→", 1, 21.5962, 21.58, 21.6107, [21.58], [[21.5876, 21.5892], [21.5898, 21.5917], [21.6057, 21.6107]]],
  ["ZNF429→", 1, 21.7065, 21.6888, 21.7239, [21.6888], [[21.7011, 21.7033], [21.7116, 21.7135], [21.7185, 21.7239]]],
  ["LOC641367→", 1, 21.9244, 21.9335, 21.9364, [], [[21.9335, 21.9364]]],
];
const E_GENES: Gene[] = [
  ["HDAC9→", 0, 19.0467, 19.028, 19.042, [], [[19.0356, 19.042]]],
  ["←TWIST1", 0, 19.1558, 19.1552, 19.1574, [], [[19.1552, 19.1574]]],
  ["←FERD3L", 1, 19.1845, 19.1845, 19.1845, [19.1845], []],
];
const F_GENES: Gene[] = [
  ["OR52J3→", 0, 5.0691, 5.0682, 5.0682, [5.0682], []], ["←OR52A5", 0, 5.1531, 5.1535, 5.1535, [5.1535], []],
  ["←OR52Z1", 0, 5.199, 5.1996, 5.1996, [5.1996], []], ["←HBB", 0, 5.2473, 5.2473, 5.2473, [5.2473], []],
  ["←HBE1", 0, 5.2903, 5.2906, 5.2906, [5.2906], []], ["←OR51B2", 0, 5.345, 5.345, 5.345, [5.345], []],
  ["OR51M1→", 0, 5.4121, 5.4115, 5.4115, [5.4115], []], ["←OR52E2", 1, 5.08, 5.0803, 5.0803, [5.0803], []],
  ["←OR52A1", 1, 5.1729, 5.1732, 5.1732, [5.1732], []], ["←OR51V1", 1, 5.2209, 5.2215, 5.2215, [5.2215], []],
  ["←HBBP1", 1, 5.2635, 5.2642, 5.2642, [5.2642], []], ["←OR51B4", 1, 5.3224, 5.3227, 5.3227, [5.3227], []],
  ["←OR51B5", 1, 5.4287, 5.3618, 5.4487, [5.3665], [[5.3618, 5.3649]]], ["OR52E1→", 2, 5.092, 5.0911, 5.0911, [5.0911], []],
  ["←HBD", 2, 5.2546, 5.2553, 5.2553, [5.2553], []], ["OR51B6→", 2, 5.3743, 5.3736, 5.3736, [5.3736], []],
  ["OR51J1→", 2, 5.4255, 5.4245, 5.4245, [5.4245], []], ["←BGLT3", 3, 5.2661, 5.2664, 5.2664, [5.2664], []],
  ["OR51Q1→", 3, 5.4293, 5.444, 5.444, [5.444], []], ["←HBG1", 4, 5.2699, 5.2702, 5.2702, [5.2702], []],
  ["←HBG2", 5, 5.275, 5.2753, 5.2753, [5.2753], []],
];

const toPts = (list: Pt[]) => list.map(([x, y]) => ({ x, y }));
const fromRows = (rows: Row[], base: number) =>
  rows.flatMap(([y, xs]) => xs.map((kb) => ({ x: base + kb / 1000, y })));

const SANS = "'Liberation Sans', Arial, sans-serif";
const TITLE_FONT = "Lato, sans-serif";
const AXIS_W = 60;
const ROW_PITCH = 22.3;
const FIRST_TRACK = 16.5;

const PANELS = [
  {
    id: "a", box: [64, 54, 650, 453], gene: [460.5, 484], y0: 435, unit: 36.25, rUnit: 3.625,
    xDomain: [189.1771, 189.5779], xTicks: [189.2, 189.3, 189.4, 189.5], yTicks: [0, 2, 4, 6, 8, 10],
    navy: fromRows(A_NAVY, 189), recomb: A_RECOMB, genes: A_GENES,
    series: [[LIGHT, A_LIGHT], [GREEN, A_GREEN], [ORANGE, A_ORANGE], [RED, A_RED], [PURPLE, A_PURPLE]],
    peak: ["2:189377509", 356, 91, 128], xLabel: ["Position on chr2 (MB)", 335, 531, 210], yLabel: [12, 289], rLabel: [692, 254],
    legend: [70, 60.5, 49, 117.5, 81, 172],
  },
  {
    id: "b", box: [816, 78.5, 1371, 364], gene: [374.6, 486.6], y0: 351.4, unit: 22.1, rUnit: 2.594,
    xDomain: [0, 0.4232], xTicks: [0, 0.1, 0.2, 0.3, 0.4], yTicks: [0, 2, 4, 6, 8, 10, 12],
    navy: fromRows(B_NAVY, 0), recomb: B_RECOMB, genes: B_GENES,
    series: [[LIGHT, B_LIGHT], [GREY, B_GREY], [GREEN, B_GREEN], [PURPLE, B_PURPLE]],
    peak: ["2:223447", 1096, 98.6, 91], xLabel: ["Position on chr16 (MB)", 1070.5, 530, 223], yLabel: [772, 273], rLabel: [1411, 221],
    legend: [821, 84, 47, 112, 104, 190],
  },
  {
    id: "c", box: [1494, 74, 2043, 404], gene: [411, 477.5], y0: 389.4, unit: 30, rUnit: 3,
    xDomain: [34.915, 35.3153], xTicks: [35, 35.1, 35.2, 35.3], yTicks: [0, 2, 4, 6, 8, 10],
    navy: fromRows(C_NAVY, 34.9), recomb: C_RECOMB, genes: C_GENES,
    series: [[LIGHT, C_LIGHT], [ORANGE, C_ORANGE], [RED, C_RED], [PURPLE, C_PURPLE]],
    peak: ["11:35115148", 1761, 118.6, 128], xLabel: ["Position on chr11 (MB)", 1744, 528, 224], yLabel: [1445, 273], rLabel: [2083, 239],
    legend: [1992, 80, 45, 110, 99, 184.5],
  },
  {
    id: "d", box: [73, 637, 637, 999], gene: [1006, 1052], y0: 982.6, unit: 32.9, rUnit: 3.29,
    xDomain: [21.5497, 21.949], xTicks: [21.6, 21.7, 21.8, 21.9], yTicks: [0, 2, 4, 6, 8, 10],
    navy: fromRows(D_NAVY, 21.5), recomb: D_RECOMB, genes: D_GENES,
    series: [[LIGHT, D_LIGHT], [GREEN, D_GREEN], [PURPLE, D_PURPLE]],
    peak: ["19:21749298", 355, 690, 128], xLabel: ["Position on chr19 (MB)", 340, 1091, 224], yLabel: [19, 828], rLabel: [678.6, 818],
    legend: [78.6, 642.4, 47, 113.6, 662.5, 750.5],
  },
  {
    id: "e", box: [793.3, 631, 1359.8, 994], gene: [1001, 1047], y0: 978, unit: 33.03, rUnit: 3.303,
    xDomain: [19.028, 19.4284], xTicks: [19.1, 19.2, 19.3, 19.4], yTicks: [0, 2, 4, 6, 8, 10],
    navy: fromRows(E_NAVY, 19), recomb: E_RECOMB, genes: E_GENES,
    series: [[LIGHT, E_LIGHT], [GREEN, E_GREEN], [ORANGE, E_ORANGE], [RED, E_RED], [PURPLE, E_PURPLE]],
    peak: ["7:19228309", 1052.7, 741, 115], xLabel: ["Position on chr7 (MB)", 1032, 1090, 211], yLabel: [748, 829.5], rLabel: [1402, 813.6],
    legend: [799, 637, 47.4, 113.5, 657, 745],
  },
  {
    id: "f", box: [1491.5, 629, 2053, 899], gene: [906, 1041.7], y0: 887, unit: 13.69, rUnit: 2.456,
    xDomain: [5.0485, 5.4486], xTicks: [5.1, 5.2, 5.3, 5.4], yTicks: [0, 5, 10, 15],
    navy: fromRows(F_NAVY, 5), recomb: F_RECOMB, genes: F_GENES,
    series: [[LIGHT, F_LIGHT], [GREEN, F_GREEN], [ORANGE, F_ORANGE], [RED, F_RED], [PURPLE, F_PURPLE]],
    peak: ["11:5248232", 1723.7, 649, 115], xLabel: ["Position on chr11 (MB)", 1743.8, 1090, 224], yLabel: [1444.6, 806.5], rLabel: [2093, 764.6],
    legend: [2000.4, 634.7, 47, 113, 655, 742],
  },
] as any[];

const Dot = (fill: string) => (props: any) => (
  <ellipse cx={props.cx} cy={props.cy} rx={4.7} ry={4} fill={fill} stroke="#555" strokeWidth={0.9} />
);
const ExonTick = (props: any) => <rect x={props.cx - 0.8} y={props.cy - 3} width={1.6} height={6} fill={NAVY} />;
const GeneLabel = (props: any) => (
  <text x={props.cx} y={props.cy - 8} textAnchor="middle" dominantBaseline="central" fontFamily={SANS} fontStyle="italic" fontSize={10.3} fill="#111">
    {props.payload?.name}
  </text>
);

function LocusPlot({ p }: { p: any }) {
  const [x1, y1, x2, y2] = p.box;
  const H = y2 - y1;
  const yDomain = [(p.y0 - y2) / p.unit, (p.y0 - y1) / p.unit];
  const rDomain = [(p.y0 - y2) / p.rUnit, (p.y0 - y1) / p.rUnit];
  const tick = { fill: "#6a6a6a", fontSize: 12.5, fontFamily: SANS };
  return (
    <div style={{ position: "absolute", left: x1 - AXIS_W, top: y1 }}>
      <ComposedChart width={x2 - x1 + 2 * AXIS_W} height={H} margin={{ top: 0, right: 0, bottom: 0, left: 0 }}>
        <XAxis type="number" dataKey="x" domain={p.xDomain} allowDataOverflow hide />
        <YAxis yAxisId="p" type="number" dataKey="y" domain={yDomain} ticks={p.yTicks} interval={0} allowDataOverflow width={AXIS_W}
          axisLine={false} tick={tick} tickSize={8} tickMargin={5} tickLine={{ stroke: "#8c8c8c" }} />
        <YAxis yAxisId="r" orientation="right" type="number" dataKey="y" domain={rDomain} ticks={RECOMB_TICKS} interval={0} allowDataOverflow width={AXIS_W}
          axisLine={false} tick={{ ...tick, fill: "#6b6bff" }} tickSize={8} tickMargin={5} tickLine={{ stroke: "#6b6bff" }} />
        <Line yAxisId="r" data={toPts(p.recomb)} dataKey="y" type="linear" stroke="#2f3cff" strokeWidth={1.4} dot={false} isAnimationActive={false} />
        <Scatter yAxisId="p" data={p.navy} dataKey="y" shape={Dot(NAVY)} isAnimationActive={false} />
        {p.series.map(([colour, list]: [string, Pt[]]) => (
          <Scatter key={colour} yAxisId="p" data={toPts(list)} dataKey="y" shape={Dot(colour)} isAnimationActive={false} />
        ))}
      </ComposedChart>
    </div>
  );
}

function GeneTrack({ p }: { p: any }) {
  const [x1, , x2] = p.box;
  const [g1, g2] = p.gene;
  const domain = [-(g2 - g1 - FIRST_TRACK) / ROW_PITCH, FIRST_TRACK / ROW_PITCH];
  const labels = p.genes.map((g: Gene) => ({ x: g[2], y: -g[1], name: g[0] }));
  const ticks = p.genes.flatMap((g: Gene) => g[5].map((x) => ({ x, y: -g[1] })));
  return (
    <div style={{ position: "absolute", left: x1 - AXIS_W, top: g1 }}>
      <ComposedChart width={x2 - x1 + 2 * AXIS_W} height={g2 - g1 + 40} margin={{ top: 0, right: AXIS_W, bottom: 0, left: AXIS_W }}>
        <XAxis type="number" dataKey="x" domain={p.xDomain} ticks={p.xTicks} interval={0} allowDataOverflow height={40} axisLine={false}
          tick={{ fill: "#6a6a6a", fontSize: 12.5, fontFamily: SANS }} tickSize={8} tickMargin={6} tickLine={{ stroke: "#8c8c8c" }} />
        <YAxis type="number" dataKey="y" domain={domain} allowDataOverflow hide />
        {p.genes.map((g: Gene) => (
          <Line key={g[0] + "line"} data={[{ x: g[3], y: -g[1] }, { x: g[4], y: -g[1] }]} dataKey="y" type="linear" stroke={NAVY} strokeWidth={1} dot={false} isAnimationActive={false} />
        ))}
        {p.genes.flatMap((g: Gene) =>
          g[6].map((b, i) => (
            <Line key={g[0] + "b" + i} data={[{ x: b[0], y: -g[1] }, { x: b[1], y: -g[1] }]} dataKey="y" type="linear" stroke={NAVY} strokeWidth={5} dot={false} isAnimationActive={false} />
          ))
        )}
        <Scatter data={ticks} dataKey="y" shape={ExonTick} isAnimationActive={false} />
        <Scatter data={labels} dataKey="y" shape={GeneLabel} isAnimationActive={false} />
      </ComposedChart>
    </div>
  );
}

function Label({ x, y, len, size, font = TITLE_FONT, fill = "#000", rotate, children }: any) {
  return (
    <text x={x} y={y} textAnchor="middle" dominantBaseline="central" fontFamily={font} fontSize={size} fill={fill}
      textLength={len} lengthAdjust="spacingAndGlyphs" transform={rotate ? `rotate(${rotate} ${x} ${y})` : undefined}>
      {children}
    </text>
  );
}

function Frame({ p }: { p: any }) {
  const [x1, y1, x2, y2] = p.box;
  const [lx, ly, lw, lh, barTop, barBottom] = p.legend;
  const cell = (barBottom - barTop) / LEGEND_COLOURS.length;
  return (
    <g>
      <rect x={x1} y={y1} width={x2 - x1} height={y2 - y1} fill="none" stroke="#8c8c8c" strokeWidth={1.5} />
      <rect x={x1} y={p.gene[0]} width={x2 - x1} height={p.gene[1] - p.gene[0]} fill="none" stroke="#8c8c8c" strokeWidth={1.5} />
      <rect x={lx} y={ly} width={lw} height={lh} fill="#fff" stroke="#8c8c8c" strokeWidth={1.2} />
      <text x={lx + 24} y={ly + 15} textAnchor="middle" fontFamily={SANS} fontStyle="italic" fontSize={13} fill="#666">
        r<tspan dy={-5} fontSize={9}>2</tspan>
      </text>
      {LEGEND_COLOURS.map((c, i) => (
        <rect key={c} x={lx + 7} y={barTop + i * cell} width={11} height={cell} fill={c} stroke="#666" strokeWidth={0.5} />
      ))}
      {LEGEND_LABELS.map((t, i) => (
        <g key={t}>
          <line x1={lx + 18} x2={lx + 22} y1={barTop + (i + 1) * cell} y2={barTop + (i + 1) * cell} stroke="#777" />
          <text x={lx + 23} y={barTop + (i + 1) * cell} dominantBaseline="central" fontFamily={SANS} fontSize={10} fill="#666">{t}</text>
        </g>
      ))}
      <Label x={p.peak[1]} y={p.peak[2]} len={p.peak[3]} size={24}>{p.peak[0]}</Label>
      <Label x={p.xLabel[1]} y={p.xLabel[2]} len={p.xLabel[3]} size={23}>{p.xLabel[0]}</Label>
      <Label x={p.yLabel[0]} y={p.yLabel[1]} len={149} size={22} font={SANS} rotate={-90}>-log10(p-value)</Label>
      <Label x={p.rLabel[0]} y={p.rLabel[1]} len={148} size={11.5} font={SANS} fill="#6b6bff" rotate={90}>Recombination rate (cM/Mb)</Label>
    </g>
  );
}

export default function App() {
  return (
    <div style={{ position: "absolute", left: 0, top: 0, width: 2100, height: 1103, background: "#fff", overflow: "hidden" }}>
      {PANELS.map((p) => <LocusPlot key={p.id} p={p} />)}
      {PANELS.map((p) => <GeneTrack key={p.id} p={p} />)}
      <svg width={2100} height={1103} style={{ position: "absolute", left: 0, top: 0, pointerEvents: "none" }}>
        {PANELS.map((p) => <Frame key={p.id} p={p} />)}
        <Label x={351} y={26} len={518} size={26}>a) Association with HbA1c at the <tspan fontStyle="italic">GULP1</tspan> locus</Label>
        <Label x={1074} y={16} len={524} size={26}>b) association of the <tspan fontFamily="'Liberation Serif', serif">α</tspan><tspan dy={-9} fontSize={16}>-3.7</tspan><tspan dy={9}> thalassemia deletion</tspan></Label>
        <Label x={917} y={48} len={211} size={26}>with total bilirubin</Label>
        <Label x={1738} y={44} len={509} size={26}>c) Association with WBC count at <tspan fontStyle="italic">CD44</tspan> locus</Label>
        <Label x={273} y={587.5} len={380} size={26}>d) association with HDL on chr 19</Label>
        <Label x={1040} y={587.5} len={493} size={26}>e) Association with serum albumin on chr 7</Label>
        <Label x={1707} y={587.5} len={465} size={26}>f) association with RDW at the <tspan fontStyle="italic">HBB</tspan> locus</Label>
      </svg>
    </div>
  );
}
